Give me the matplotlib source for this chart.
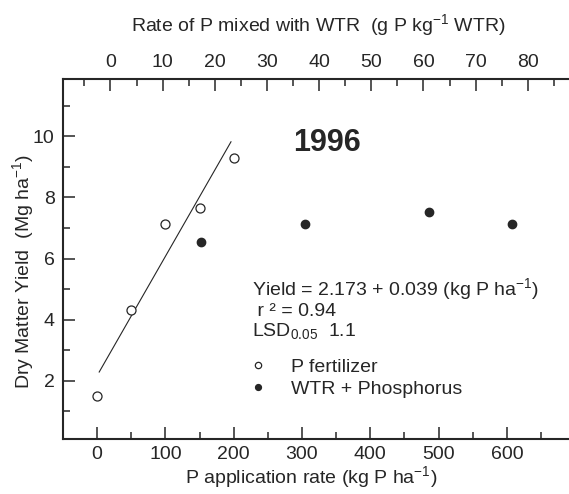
#!/usr/bin/env python3
"""Dry matter yield vs P application rate, 1996 (fertilizer vs WTR + P)."""

import matplotlib
matplotlib.use("Agg")
import matplotlib.pyplot as plt
from matplotlib.ticker import MultipleLocator
import numpy as np

# ---------------------------------------------------------------------------
# Data
# ---------------------------------------------------------------------------
fert_rate = [0, 50, 100, 150, 200]          # kg P/ha
fert_yield = [1.51, 4.33, 7.14, 7.64, 9.28]  # Mg/ha

wtr_rate = [152, 304, 486, 608]
wtr_yield = [6.53, 7.14, 7.52, 7.14]

fit_intercept = 2.173
fit_slope = 0.039
fit_range = [3, 196]

# top axis: g P per kg WTR, mapped linearly onto the bottom axis
TOP_AT_ZERO = 19.5      # bottom-axis value where top axis reads 0
BOTTOM_PER_TOP = 7.64   # bottom units per top unit

# ---------------------------------------------------------------------------
# Style
# ---------------------------------------------------------------------------
INK = "#262626"
W, H = 569, 494
FS = 14

plt.rcParams["font.family"] = ["Liberation Sans", "DejaVu Sans"]
plt.rcParams["mathtext.fontset"] = "custom"
plt.rcParams["mathtext.rm"] = "Liberation Sans"
plt.rcParams["text.color"] = INK


def fx(px):
    return px / W


def fy(py):
    return 1 - py / H


fig = plt.figure(figsize=(W / 100, H / 100), dpi=100)
ax = fig.add_axes([fx(63), fy(439), fx(569 - 63), (439 - 79) / H])

ax.plot(fert_rate, fert_yield, "o", ms=6.5, mfc="white", mec=INK, mew=0.9,
        label="P fertilizer", zorder=3)
ax.plot(wtr_rate, wtr_yield, "o", ms=6, mfc=INK, mec=INK,
        label="WTR + Phosphorus", zorder=3)

xf = np.array(fit_range)
ax.plot(xf, fit_intercept + fit_slope * xf, "-", color=INK, lw=0.8)

XMIN, XMAX = -50, 691
ax.set_xlim(XMIN, XMAX)
ax.set_ylim(0.1, 11.87)

ax.xaxis.set_major_locator(MultipleLocator(100))
ax.xaxis.set_minor_locator(MultipleLocator(50))
ax.yaxis.set_major_locator(MultipleLocator(2))
ax.yaxis.set_minor_locator(MultipleLocator(1))
ax.set_yticks([2, 4, 6, 8, 10])

for s in ("top", "right"):
    ax.spines[s].set_visible(False)
for s in ("left", "bottom"):
    ax.spines[s].set_linewidth(1.5)
    ax.spines[s].set_color(INK)

ax.tick_params(which="both", direction="in", color=INK, width=1.1,
               labelsize=FS, labelcolor=INK)
ax.tick_params(which="major", length=8.6)
ax.tick_params(which="minor", length=5)
ax.tick_params(axis="x", pad=5)
ax.tick_params(axis="y", pad=6)

# top axis
ax2 = ax.twiny()
ax2.set_xlim((XMIN - TOP_AT_ZERO) / BOTTOM_PER_TOP,
             (XMAX - TOP_AT_ZERO) / BOTTOM_PER_TOP)
ax2.xaxis.set_major_locator(MultipleLocator(10))
ax2.xaxis.set_minor_locator(MultipleLocator(5))
ax2.set_xticks(range(0, 90, 10))
for s in ("left", "right", "bottom"):
    ax2.spines[s].set_visible(False)
ax2.spines["top"].set_linewidth(1.5)
ax2.spines["top"].set_color(INK)
ax2.tick_params(which="both", direction="in", color=INK, width=1.1,
                labelsize=FS, labelcolor=INK, pad=6)
ax2.tick_params(which="major", length=8.6)
ax2.tick_params(which="minor", length=5)

# axis titles
fig.text(fx(318), fy(26), r"Rate of P mixed with WTR  (g P kg$^{\mathregular{-1}}$ WTR)",
         ha="center", va="center", fontsize=FS)
fig.text(fx(311), fy(478), r"P application rate (kg P ha$^{\mathregular{-1}}$)",
         ha="center", va="center", fontsize=FS)
fig.text(fx(24), fy(272), r"Dry Matter Yield  (Mg ha$^{\mathregular{-1}}$)",
         ha="center", va="center", rotation=90, fontsize=FS)

# annotations
fig.text(fx(293), fy(143), "1996", ha="left", va="center",
         fontsize=22, fontweight="bold")
fig.text(fx(252), fy(290),
         r"Yield = 2.173 + 0.039 (kg P ha$^{\mathregular{-1}}$)",
         ha="left", va="center", fontsize=FS)
fig.text(fx(252), fy(311), " r ² = 0.94", ha="left", va="center", fontsize=FS)
fig.text(fx(252), fy(332), r"LSD$_{\mathregular{0.05}}$  1.1",
         ha="left", va="center", fontsize=FS)

ax.legend(loc="upper left", bbox_to_anchor=(fx(233), fy(341)),
          bbox_transform=fig.transFigure, frameon=False, fontsize=FS,
          handlelength=0.8, handletextpad=1.3, labelspacing=0.22,
          markerscale=0.7, borderpad=0.4)

fig.savefig("out.png", dpi=100)
